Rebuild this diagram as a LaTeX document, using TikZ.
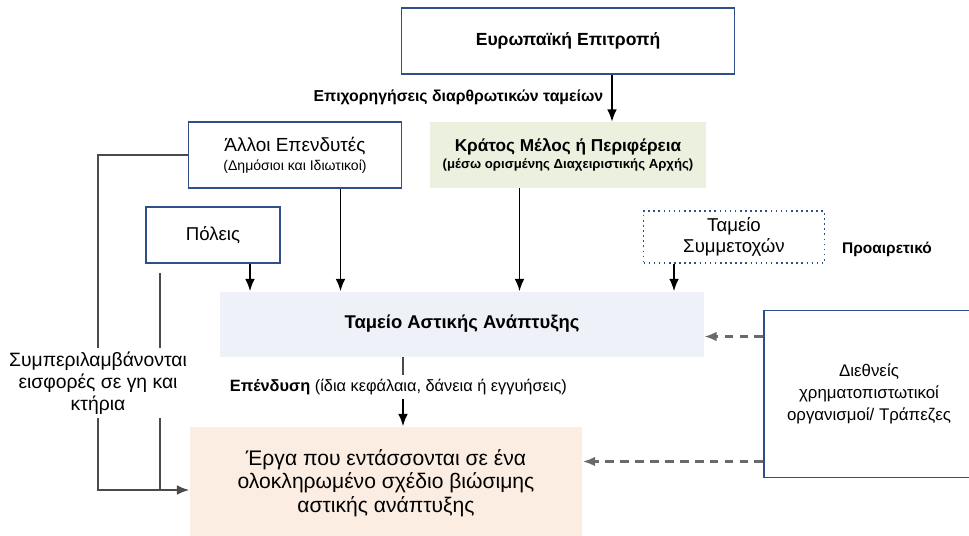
\documentclass[tikz,border=0pt]{standalone}
\usepackage{fontspec}
\setmainfont{Liberation Sans}
\usetikzlibrary{positioning,arrows.meta}
\definecolor{boxblue}{HTML}{2F4F8A}
\definecolor{kmfill}{HTML}{EBF0DF}
\definecolor{taafill}{HTML}{EEF1F7}
\definecolor{ergafill}{HTML}{FCEDE3}
\definecolor{lingray}{HTML}{4A4A4A}
\definecolor{dshgray}{HTML}{6A6A6A}

\begin{document}
\begin{tikzpicture}
  [x=0.02cm,y=-0.02cm,
   every node/.style={align=center,inner sep=2pt},
   box/.style={draw=boxblue,line width=0.9pt,fill=white},
   big/.style={font=\fontsize{10.8}{13}\selectfont},
   arr/.style={-{Latex[length=7pt,width=5.5pt]},line width=0.8pt},
   lin/.style={draw=lingray,line width=0.9pt},
   dsh/.style={-{Latex[length=7pt,width=5.5pt]},draw=dshgray,line width=1.3pt,dash pattern=on 5pt off 3.5pt}]

  \clip (0,0) rectangle (969,535);

  \node[box,minimum width=6.66cm,minimum height=1.32cm,font=\fontsize{10}{12}\selectfont\bfseries] (ek) at (568,41) {Ευρωπαϊκή Επιτροπή};
  \node[anchor=east,font=\fontsize{9}{11}\selectfont\bfseries] (epx) at (607,97) {Επιχορηγήσεις διαρθρωτικών ταμείων};
  \node[fill=kmfill,minimum width=5.54cm,minimum height=1.32cm,font=\fontsize{9.8}{12}\selectfont\bfseries] (km) at (568,155) {Κράτος Μέλος ή Περιφέρεια\\[-2pt]{\fontsize{7.5}{9}\selectfont (μέσω ορισμένης Διαχειριστικής Αρχής)}};
  \node[box,minimum width=4.26cm,minimum height=1.32cm,big] (ae) at (295,155) {Άλλοι Επενδυτές\\[-2pt]{\fontsize{8}{9.5}\selectfont (Δημόσιοι και Ιδιωτικοί)}};
  \node[box,minimum width=2.68cm,minimum height=1.12cm,font=\fontsize{10.6}{13}\selectfont] (pol) at (213,235) {Πόλεις};
  \node[box,dotted,minimum width=3.62cm,minimum height=1.04cm,font=\fontsize{10.6}{11.8}\selectfont] (ts) at (734,237) {Ταμείο\\Συμμετοχών};
  \node[font=\fontsize{8.8}{10}\selectfont\bfseries] (opt) at (887,249) {Προαιρετικό};
  \node[fill=taafill,minimum width=9.68cm,minimum height=1.3cm,font=\fontsize{10.5}{12}\selectfont\bfseries] (taa) at (462,324) {Ταμείο Αστικής Ανάπτυξης};
  \node[box,minimum width=4.2cm,minimum height=3.34cm,font=\fontsize{9.6}{12.4}\selectfont] (dt) at (869,394) {Διεθνείς\\χρηματοπιστωτικοί\\οργανισμοί/ Τράπεζες};
  \node[anchor=west,fill=white,font=\fontsize{9.3}{11}\selectfont] (inv) at (226,387) {\textbf{Επένδυση} (ίδια κεφάλαια, δάνεια ή εγγυήσεις)};
  \node[fill=ergafill,minimum width=7.86cm,minimum height=2.26cm,font=\fontsize{12}{13.4}\selectfont] (erga) at (386,483) {Έργα που εντάσσονται σε ένα\\ολοκληρωμένο σχέδιο βιώσιμης\\αστικής ανάπτυξης};
  \node[font=\fontsize{11}{12.6}\selectfont] (syn) at (98,383) {Συμπεριλαμβάνονται\\εισφορές σε γη και\\κτήρια};

  \coordinate (vx) at (403,0);
  \coordinate (p1) at (160,273);
  \coordinate (p2) at (160,490);

  \draw[arr] ([xshift=0.88cm]ek.south) -- ([xshift=0.88cm]ek.south |- km.north);
  \draw[arr] ([xshift=0.74cm]pol.south) -- ([xshift=0.74cm]pol.south |- taa.north);
  \draw[arr] ([xshift=0.91cm]ae.south) -- ([xshift=0.91cm]ae.south |- taa.north);
  \draw[arr] ([xshift=-0.97cm]km.south) -- ([xshift=-0.97cm]km.south |- taa.north);
  \draw[arr] ([xshift=-1.2cm]ts.south) -- ([xshift=-1.2cm]ts.south |- taa.north);
  \draw[line width=0.8pt,draw=lingray] (taa.south -| vx) -- (inv.north -| vx);
  \draw[arr] (inv.south -| vx) -- (erga.north -| vx);
  \draw[dsh] ([yshift=1.15cm]dt.west) -- ([yshift=1.15cm]dt.west -| taa.east);
  \draw[dsh] ([yshift=-1.35cm]dt.west) -- ([yshift=-1.35cm]dt.west -| erga.east);

  \draw[lin] (ae.west) -| (syn.north);
  \draw[lin,-{Latex[length=7pt,width=5.5pt]}] (syn.south) |- ([yshift=-0.14cm]erga.west);
  \draw[lin] (p1) -- (p1 |- syn.north);
  \draw[lin] (p2 |- syn.south) -- (p2);

\end{tikzpicture}
\end{document}
